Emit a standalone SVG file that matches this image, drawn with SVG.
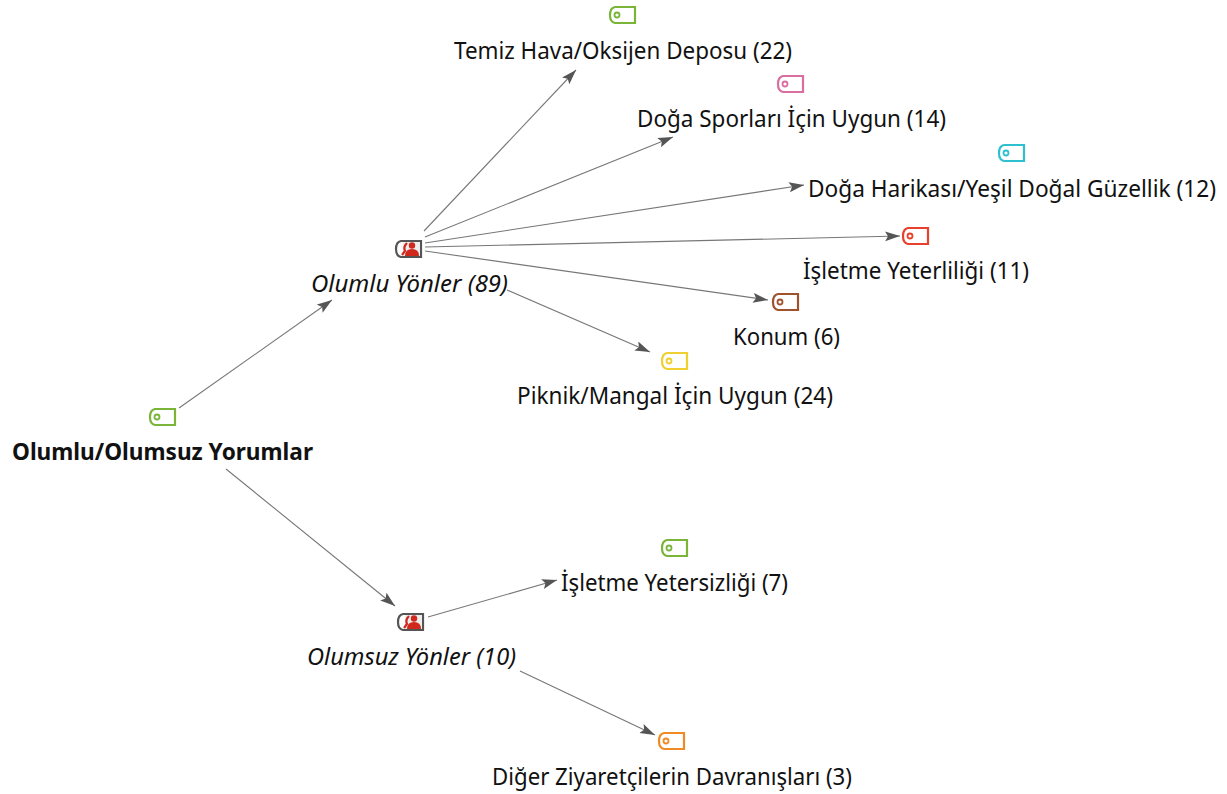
<svg xmlns="http://www.w3.org/2000/svg" width="1227" height="794" viewBox="0 0 1227 794">
<style>
text{font-family:"Noto Sans","Open Sans","Liberation Sans",sans-serif;font-size:23px;fill:#111}
.b{font-weight:700}.i{font-style:italic}
.tag{fill:#fff;stroke-width:2.200}
.c{fill:none;stroke:#777;stroke-width:1.100;marker-end:url(#a)}
</style>
<defs>
<marker id="a" markerWidth="16" markerHeight="12" refX="15" refY="5" orient="auto" markerUnits="userSpaceOnUse"><path d="M0 0L15 5L0 10L3 5Z" fill="#555"/></marker>
<g id="tag"><path class="tag" d="M6 1H26V17H6Q1 16 1 9Q1 2 6 1Z"/><circle cx="8" cy="9" r="2.500" fill="none" stroke-width="1.800"/></g>
<g id="case"><path d="M6 1H26V17H6Q1 16 1 9Q1 2 6 1Z" fill="#fff" stroke="#555" stroke-width="2.200"/><rect x="8" y="2" width="17" height="14" fill="#eee"/><circle cx="17" cy="5.500" r="3.200" fill="#d0281c"/><path d="M10 16Q10 9 17 9Q24 9 24 16Z" fill="#d0281c"/><path d="M12 3Q8 7 10 11L7 15" stroke="#d0281c" stroke-width="2.200" fill="none"/></g>
</defs>
<g id="connectors">
<path class="c" d="M179 408L332 300"/>
<path class="c" d="M226 469L395 606"/>
<path class="c" d="M424 231L576 70"/>
<path class="c" d="M425 237L673 137"/>
<path class="c" d="M425 243L804 185"/>
<path class="c" d="M425 247L900 236"/>
<path class="c" d="M425 251L768 300"/>
<path class="c" d="M507 290L650 352"/>
<path class="c" d="M428 617L557 580"/>
<path class="c" d="M520 671L655 735"/>
</g>
<g id="n-root"><use href="#tag" x="149" y="408" stroke="#7ab53a"/><text class="b" x="12" y="460" textLength="301" lengthAdjust="spacingAndGlyphs">Olumlu/Olumsuz Yorumlar</text></g>
<g id="n-olumlu"><use href="#case" x="395" y="240"/><text class="i" x="311" y="292" textLength="197" lengthAdjust="spacingAndGlyphs">Olumlu Yönler (89)</text></g>
<g id="n-olumsuz"><use href="#case" x="397" y="613"/><text class="i" x="307" y="665" textLength="209" lengthAdjust="spacingAndGlyphs">Olumsuz Yönler (10)</text></g>
<g id="n-temiz"><use href="#tag" x="609" y="6" stroke="#7ab53a"/><text x="454" y="59" textLength="338" lengthAdjust="spacingAndGlyphs">Temiz Hava/Oksijen Deposu (22)</text></g>
<g id="n-spor"><use href="#tag" x="777" y="75" stroke="#d96fa0"/><text x="637" y="127" textLength="309" lengthAdjust="spacingAndGlyphs">Doğa Sporları İçin Uygun (14)</text></g>
<g id="n-harika"><use href="#tag" x="998" y="144" stroke="#2fc0d0"/><text x="808" y="197" textLength="408" lengthAdjust="spacingAndGlyphs">Doğa Harikası/Yeşil Doğal Güzellik (12)</text></g>
<g id="n-yeterlilik"><use href="#tag" x="902" y="227" stroke="#e8402a"/><text x="803" y="279" textLength="226" lengthAdjust="spacingAndGlyphs">İşletme Yeterliliği (11)</text></g>
<g id="n-konum"><use href="#tag" x="772" y="293" stroke="#a0522d"/><text x="733" y="345" textLength="107" lengthAdjust="spacingAndGlyphs">Konum (6)</text></g>
<g id="n-piknik"><use href="#tag" x="661" y="352" stroke="#f0d030"/><text x="517" y="404" textLength="316" lengthAdjust="spacingAndGlyphs">Piknik/Mangal İçin Uygun (24)</text></g>
<g id="n-yetersiz"><use href="#tag" x="661" y="539" stroke="#7ab53a"/><text x="561" y="591" textLength="227" lengthAdjust="spacingAndGlyphs">İşletme Yetersizliği (7)</text></g>
<g id="n-davranis"><use href="#tag" x="658" y="732" stroke="#f08a24"/><text x="492" y="785" textLength="360" lengthAdjust="spacingAndGlyphs">Diğer Ziyaretçilerin Davranışları (3)</text></g>
</svg>
